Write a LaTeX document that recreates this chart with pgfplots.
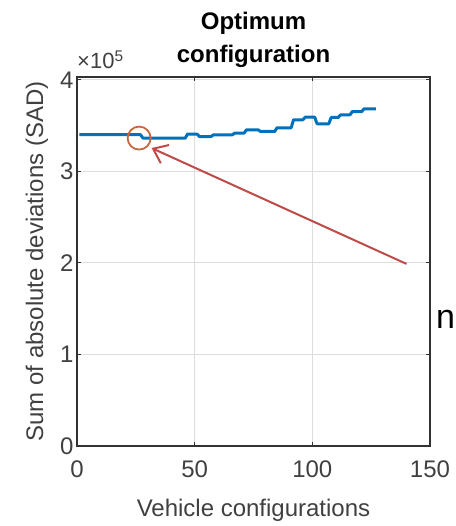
\documentclass[border=0pt]{standalone}
\usepackage{fontspec}
\setmainfont{Liberation Sans}
\usepackage{pgfplots}
\pgfplotsset{compat=1.18}
\usetikzlibrary{arrows.meta}
\definecolor{mblue}{RGB}{0,114,189}
\definecolor{axgray}{RGB}{50,50,50}
\definecolor{txtgray}{RGB}{64,64,64}
\definecolor{gridgray}{RGB}{222,222,222}
\definecolor{circ}{RGB}{197,104,64}
\definecolor{arrred}{RGB}{192,74,70}
\begin{document}
\begin{tikzpicture}
\begin{axis}[
  name=ax,
  scale only axis, width=353pt, height=369pt,
  xmin=0, xmax=150, ymin=0, ymax=403000,
  xtick={0,50,100,150}, xticklabels={0,50,100,150},
  ytick={0,100000,200000,300000,400000}, yticklabels={0,1,2,3,4},
  scaled y ticks=false,
  grid=major, major grid style={gridgray, line width=0.8pt},
  axis line style={axgray, line width=1.2pt},
  tick style={axgray, line width=1pt},
  tick align=inside, major tick length=4pt,
  /pgf/number format/assume math mode=true,
  tick label style={font=\fontsize{24}{28}\selectfont, text=txtgray},
  xticklabel style={yshift=-11pt},
  title={Optimum\\configuration},
  every axis title/.style={at={(axis description cs:0.5,1)}, anchor=south, yshift=9pt, inner sep=0pt, align=center, font=\bfseries\fontsize{24}{33}\selectfont},
  xlabel={Vehicle configurations},
  every axis x label/.style={at={(axis description cs:0.5,-0.1924)}, anchor=base, font=\fontsize{24}{28}\selectfont, text=txtgray},
  ylabel={Sum of absolute deviations (SAD)},
  every axis y label/.style={at={(axis description cs:-0.0963,0.5)}, rotate=90, anchor=base, font=\fontsize{24}{28}\selectfont, text=txtgray},
]
\addplot[mblue, line width=3pt, line join=round] coordinates {
(1,340000)(27,340000)(28,336300)(46,336300)(47,340700)(51,340700)(52,338000)(57,338000)
(58,339900)(66,339900)(67,341700)(71,341700)(72,345300)(77,345300)(78,343500)(84,343500)
(85,347500)(91,347500)(92,356300)(96,356300)(97,359200)(101,359200)(102,351900)(107,351900)
(108,358800)(111,358800)(112,361700)(116,361700)(117,365300)(121,365300)(122,368300)(127,368300)
};
\draw[circ, line width=1.8pt] (axis cs:26.4,336300) circle[radius=11.5pt];
\draw[arrred, line width=2pt, -{Straight Barb[length=13pt,width=20pt]}] (axis cs:140,198900) -- (axis cs:31.7,325400);
\end{axis}
\node[anchor=base west, inner sep=0pt, font=\fontsize{22}{26}\selectfont, text=txtgray] at ([yshift=8pt]ax.north west) {×10\textsuperscript{5}};
\node[anchor=base west, inner sep=0pt, font=\fontsize{34}{38}\selectfont] at ([xshift=6pt,yshift=118pt]ax.south east) {n};
\pgfresetboundingbox
\path ([xshift=-77pt,yshift=-80pt]ax.south west) rectangle ([xshift=26pt,yshift=77pt]ax.north east);
\end{tikzpicture}
\end{document}
